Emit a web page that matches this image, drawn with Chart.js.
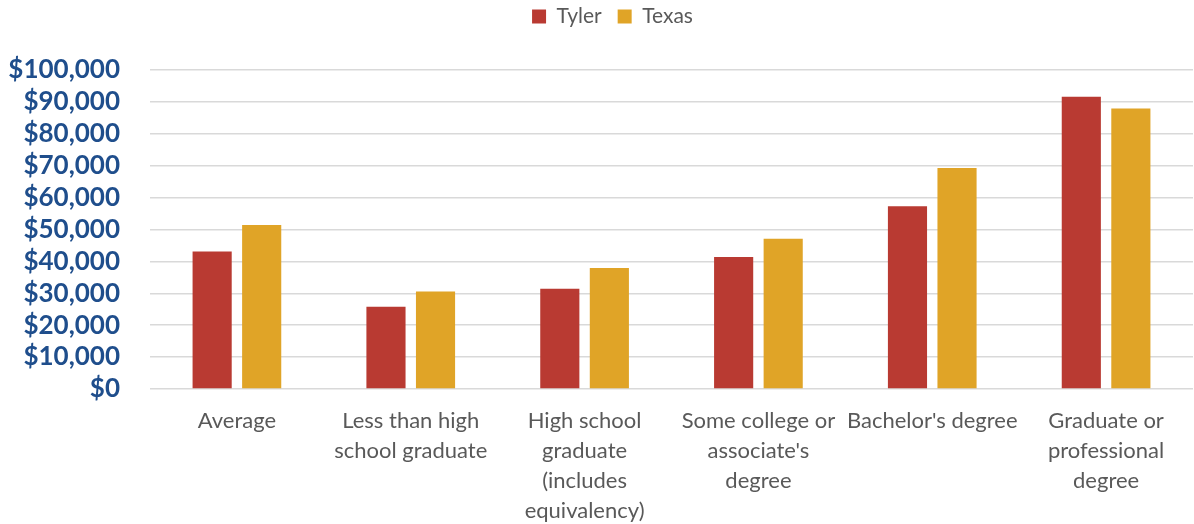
<!DOCTYPE html>
<html>
<head>
<meta charset="utf-8">
<script src="https://cdn.jsdelivr.net/npm/chart.js@4"></script>
<style>
  html, body { margin: 0; padding: 0; background: #fff; }
  #wrap { width: 1194px; height: 524px; }
</style>
</head>
<body>
<div id="wrap"><canvas id="earnings-chart"></canvas></div>
<script>
// median earnings by educational attainment
var categories = [
  'Average',
  ['Less than high', 'school graduate'],
  ['High school', 'graduate', '(includes', 'equivalency)'],
  ['Some college or', "associate's", 'degree'],
  "Bachelor's degree",
  ['Graduate or', 'professional', 'degree']
];
var tylerValues = [43100, 25800, 31400, 41400, 57300, 91600];
var texasValues = [51400, 30600, 37900, 47100, 69300, 87900];
var yTicks = [0, 10000, 20000, 30000, 40000, 50000, 60000, 70000, 80000, 90000, 100000];

// reserve room under the legend and nudge the legend itself up and right
var legendSpace = {
  id: 'legendSpace',
  beforeInit: function (chart) {
    var fit = chart.legend.fit;
    chart.legend.fit = function () {
      fit.bind(chart.legend)();
      this.height = 70;
    };
  },
  afterLayout: function (chart) {
    chart.legend.top -= 10;
    chart.legend.left += 32;
  }
};

new Chart(document.getElementById('earnings-chart'), {
  type: 'bar',
  data: {
    labels: categories,
    datasets: [
      {
        label: 'Tyler',
        data: tylerValues,
        backgroundColor: '#B93A32',
        categoryPercentage: 0.57,
        barPercentage: 0.79
      },
      {
        label: 'Texas',
        data: texasValues,
        backgroundColor: '#E0A427',
        categoryPercentage: 0.57,
        barPercentage: 0.79
      }
    ]
  },
  options: {
    responsive: true,
    maintainAspectRatio: false,
    animation: false,
    layout: { padding: { left: 0, right: 1, top: 0, bottom: 0 } },
    plugins: {
      tooltip: { enabled: false },
      legend: {
        position: 'top',
        labels: {
          boxWidth: 14,
          boxHeight: 14,
          padding: 16,
          color: '#595959',
          font: { family: 'Lato', size: 21 }
        }
      }
    },
    scales: {
      x: {
        grid: { display: false, drawTicks: false },
        border: { display: false },
        ticks: {
          color: '#595959',
          padding: 17,
          maxRotation: 0,
          autoSkip: false,
          font: { family: 'Lato', size: 22, lineHeight: 1.36 }
        },
        afterFit: function (scale) { scale.height = 135; }
      },
      y: {
        min: 0,
        max: 100000,
        afterBuildTicks: function (scale) {
          scale.ticks = yTicks.map(function (v) { return { value: v }; });
        },
        grid: { color: '#D9D9D9', lineWidth: 1.5, drawTicks: false },
        border: { display: false },
        ticks: {
          color: '#1F4E8C',
          padding: 30,
          autoSkip: false,
          font: { family: 'Lato', size: 26, weight: 'bold', lineHeight: 1 },
          callback: function (v) { return '$' + v.toLocaleString('en-US'); }
        },
        afterFit: function (scale) { scale.width = 150; }
      }
    }
  },
  plugins: [legendSpace]
});
</script>
</body>
</html>
